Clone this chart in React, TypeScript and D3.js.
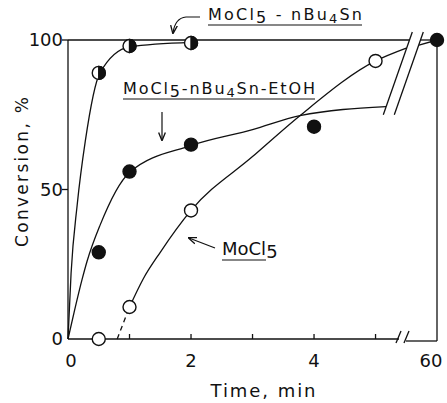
import * as d3 from "d3"

// measured points (time in min, conversion in %)
const nbuTime = [0.5, 1, 2]
const nbuConv = [89, 98, 99]
const etohTime = [0.5, 1, 2, 4, 60]
const etohConv = [29, 56, 65, 71, 100]
const mocl5Time = [0.5, 1, 2, 5]
const mocl5Conv = [0, 10.7, 43, 93]

// hand-drawn fitted curves
const nbuFitTime = [0, 0.05, 0.15, 0.28, 0.52, 1, 2]
const nbuFitConv = [0, 22, 45, 66, 89, 97.7, 99.2]
const etohFitTime = [0, 0.1, 0.23, 0.31, 0.52, 1, 2, 3, 3.77, 5.17]
const etohFitConv = [0, 9, 20, 26, 38, 55.7, 64.7, 70, 74.7, 77.7]
const mocl5FitTime = [1, 1.22, 1.5, 2, 3, 3.77, 5, 5.5]
const mocl5FitConv = [10.7, 20, 29, 43, 61, 74.7, 93, 97.3]
const mocl5DashTime = [0.8, 1]
const mocl5DashConv = [0, 10.7]
const tailTime = [59, 60]
const tailConv = [98.3, 100]

const xTickMinor = [1, 2, 3, 4, 5]
const xTickLabels = [0, 2, 4, 60]
const yTickMarks = [50, 100]
const yTickLabels = [0, 50, 100]

const W = 447
const H = 403
const FONT = "DejaVu Sans"

const zip = (a: number[], b: number[]) => a.map((v, i) => [v, b[i]] as [number, number])

export default function App() {
  // broken time axis: 0..5.5 min, then a gap, then 60 min
  const x = d3.scaleLinear().domain([0, 5.5, 59, 60]).range([68, 406.3, 419, 437])
  const y = d3.scaleLinear().domain([0, 100]).range([339, 40])

  const fit = d3
    .line<[number, number]>()
    .x((d) => x(d[0]))
    .y((d) => y(d[1]))
    .curve(d3.curveMonotoneX)
  const straight = d3
    .line<[number, number]>()
    .x((d) => x(d[0]))
    .y((d) => y(d[1]))

  const r = 6.5
  const x0 = x(0)
  const y0 = y(0)
  const xEnd = x(60)
  const brk = x(5.5)
  const bTop = y(102.7)
  const bBot = y(75)
  // x position of a break line at a given y
  const brkAt = (yy: number, off: number) => brk + 6 + off - ((yy - bTop) / (bBot - bTop)) * 29

  const stroke = "#111"

  return (
    <svg
      width={W}
      height={H}
      style={{ position: "absolute", left: 0, top: 0, background: "#fff" }}
      fontFamily={FONT}
    >
      <defs>
        <marker id="arr" viewBox="0 0 10 10" refX="9" refY="5" markerWidth="7" markerHeight="7" orient="auto">
          <path d="M0,1 L10,5 L0,9" fill="none" stroke={stroke} strokeWidth={1.6} />
        </marker>
      </defs>

      {/* frame */}
      <g stroke={stroke} strokeWidth={1.3} fill="none">
        <line x1={x0} y1={y0} x2={x0} y2={y(100)} />
        <line x1={x0} y1={y(100)} x2={brkAt(y(100), 0)} y2={y(100)} />
        <line x1={brkAt(y(100), 11)} y1={y(100)} x2={xEnd} y2={y(100)} />
        <line x1={xEnd} y1={y(100)} x2={xEnd} y2={y0 + 2} />
        <line x1={x0} y1={y0} x2={399} y2={y0} />
        <line x1={406} y1={y0 + 2} x2={xEnd} y2={y0 + 2} />
        <line x1={401} y1={y0 - 8} x2={396} y2={y0 + 4} />
        <line x1={409} y1={y0 - 8} x2={404} y2={y0 + 4} />
        {/* axis break across the plot */}
        <line x1={brkAt(bTop, 0)} y1={bTop} x2={brkAt(bBot, 0)} y2={bBot} />
        <line x1={brkAt(bTop, 11)} y1={bTop} x2={brkAt(bBot, 11)} y2={bBot} />
        {xTickMinor.map((t) => (
          <line key={t} x1={x(t)} y1={y0} x2={x(t)} y2={y0 - 5} />
        ))}
        {yTickMarks.map((v) => (
          <line key={v} x1={x0 - 6} y1={y(v)} x2={x0} y2={y(v)} />
        ))}
      </g>

      {/* tick labels */}
      <g fontSize={18} fill={stroke}>
        {xTickLabels.map((t) => (
          <text key={t} x={x(t) + (t === 60 ? -6 : t === 0 ? 3 : 0)} y={367} textAnchor="middle">
            {t}
          </text>
        ))}
        {yTickLabels.map((v) => (
          <text key={v} x={63} y={y(v)} dy="0.36em" textAnchor="end">
            {v}
          </text>
        ))}
      </g>

      {/* axis titles */}
      <text x={263} y={397} textAnchor="middle" fontSize={18} textLength={105} lengthAdjust="spacing" fill={stroke}>
        Time, min
      </text>
      <text
        transform="translate(28,172) rotate(-90)"
        textAnchor="middle"
        fontSize={17}
        textLength={150}
        lengthAdjust="spacing"
        fill={stroke}
      >
        Conversion, %
      </text>

      {/* curves */}
      <g stroke={stroke} strokeWidth={1.3} fill="none">
        <path d={fit(zip(nbuFitTime, nbuFitConv)) ?? ""} />
        <path d={fit(zip(etohFitTime, etohFitConv)) ?? ""} />
        <path d={fit(zip(mocl5FitTime, mocl5FitConv)) ?? ""} />
        <path d={straight(zip(mocl5DashTime, mocl5DashConv)) ?? ""} strokeDasharray="5,4" />
        <path d={straight(zip(tailTime, tailConv)) ?? ""} />
      </g>

      {/* markers */}
      <g stroke={stroke} strokeWidth={1.4}>
        {mocl5Time.map((t, i) => (
          <circle key={"o" + t} cx={x(t)} cy={y(mocl5Conv[i])} r={r} fill="#fff" />
        ))}
        {nbuTime.map((t, i) => {
          const cx = x(t)
          const cy = y(nbuConv[i])
          return (
            <g key={"h" + t}>
              <circle cx={cx} cy={cy} r={r} fill="#fff" />
              <path d={`M${cx},${cy - r} A${r},${r} 0 0 1 ${cx},${cy + r} Z`} fill={stroke} />
            </g>
          )
        })}
        {etohTime.map((t, i) => (
          <circle key={"f" + t} cx={x(t)} cy={y(etohConv[i])} r={r} fill={stroke} />
        ))}
      </g>

      {/* labels with arrows */}
      <g fill={stroke}>
        <text x={208} y={20} fontSize={16} textLength={154} lengthAdjust="spacing">
          MoCl<tspan dy={3}>5</tspan>
          <tspan dy={-3}> - nBu</tspan>
          <tspan dy={3} fontSize={13}>4</tspan>
          <tspan dy={-3}>Sn</tspan>
        </text>
        <text x={123} y={94} fontSize={16} textLength={192} lengthAdjust="spacing">
          MoCl<tspan dy={3}>5</tspan>
          <tspan dy={-3}>-nBu</tspan>
          <tspan dy={3} fontSize={13}>4</tspan>
          <tspan dy={-3}>Sn-EtOH</tspan>
        </text>
        <text x={222} y={255} fontSize={18}>
          MoCl<tspan dy={3}>5</tspan>
        </text>
      </g>
      <g stroke={stroke} strokeWidth={1.2} fill="none">
        <line x1={208} y1={25} x2={362} y2={25} />
        <line x1={123} y1={99} x2={315} y2={99} />
        <line x1={222} y1={260} x2={266} y2={260} />
        <path d="M200,17 L186,17 Q175,18 173,33" markerEnd="url(#arr)" />
        <line x1={162} y1={112} x2={162} y2={140} markerEnd="url(#arr)" />
        <line x1={215} y1={248} x2={189} y2={238} markerEnd="url(#arr)" />
      </g>
    </svg>
  )
}
